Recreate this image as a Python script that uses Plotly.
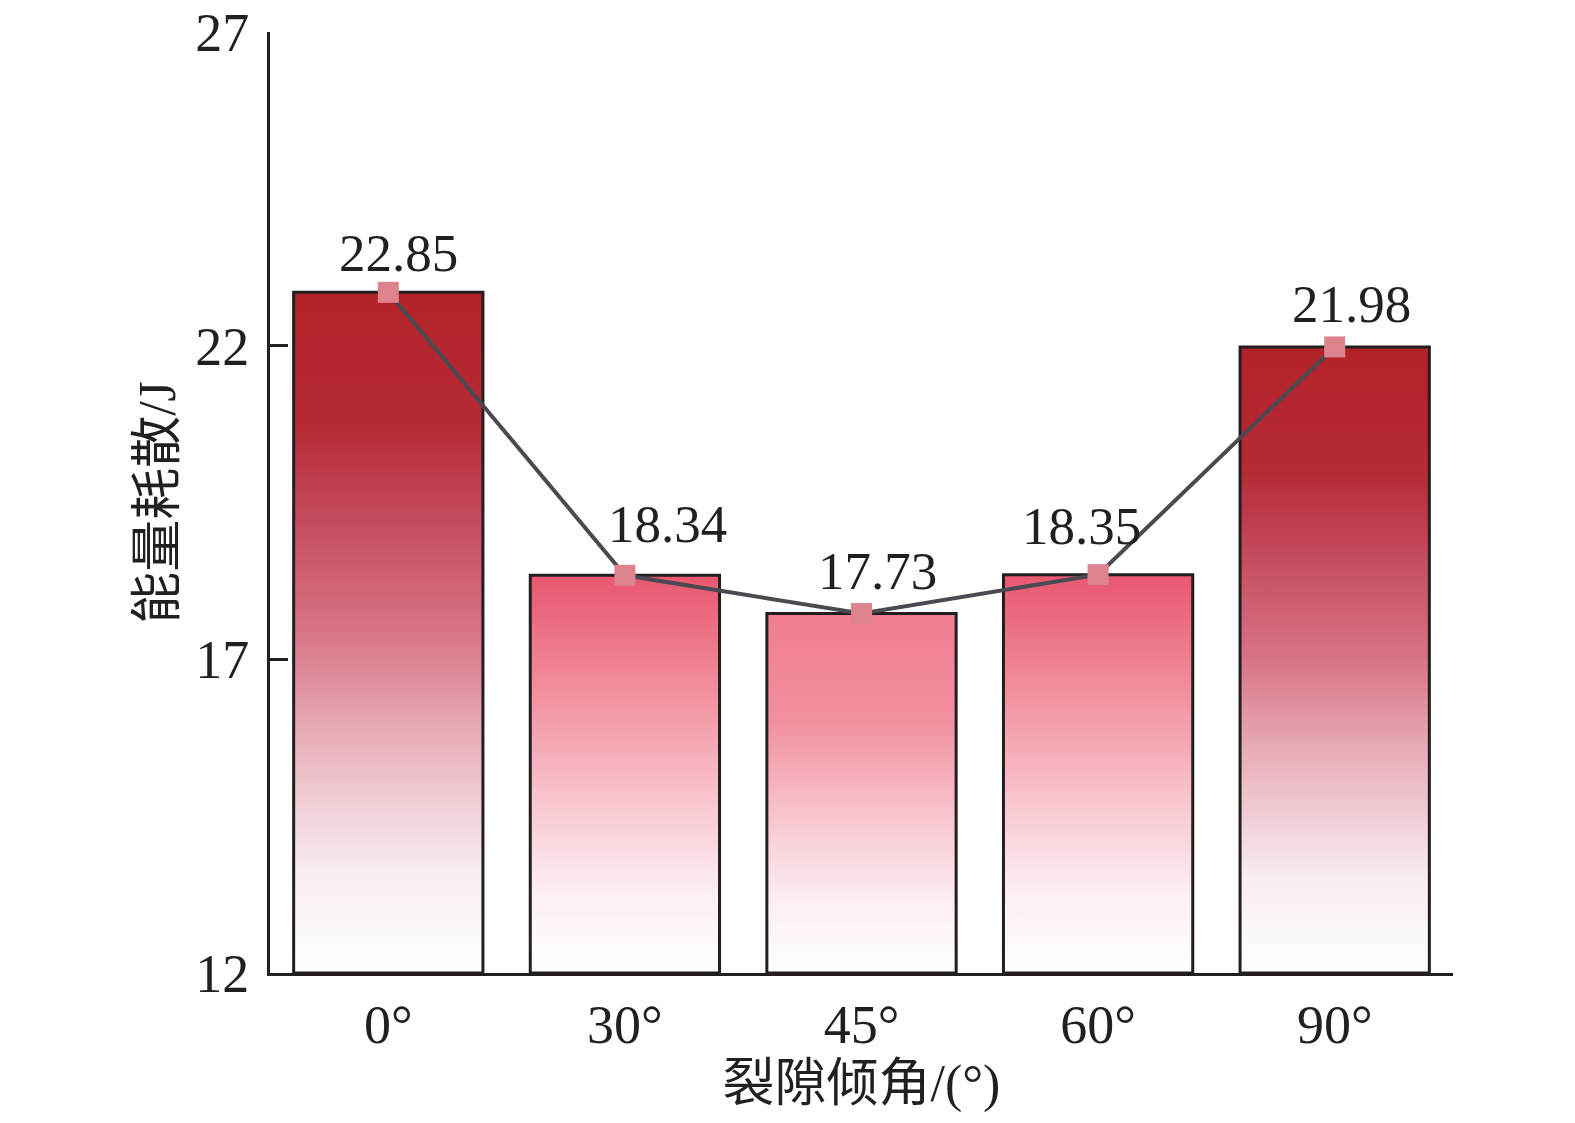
import plotly.graph_objects as go

categories = ["0°", "30°", "45°", "60°", "90°"]
energy = [22.85, 18.34, 17.73, 18.35, 21.98]
label_text = ["22.85", "18.34", "17.73", "18.35", "21.98"]
y_ticks = [12, 17, 22, 27]

# styling
bar_top_colors = ["#B22229", "#E85770", "#F07C8F", "#E85770", "#B22229"]
label_dx = [10, 43, 16, -17, 17]
label_dy = [8, 20, 12, 18, 12]
base = 12
half_w = 0.4
serif = "Liberation Serif, Times New Roman, serif"
cjk = "Liberation Serif, Noto Sans CJK SC, serif"
ink = "#231F20"

fig = go.Figure()

for i, v in enumerate(energy):
    top = bar_top_colors[i]
    if top == "#B22229":
        cs = [[0, "#FFFFFF"], [0.15, "#F8EDEF"], [0.35, "#E8AEBA"], [0.5, "#D87486"],
              [0.65, "#C74F63"], [0.8, "#B52A35"], [1, "#B22229"]]
    else:
        cs = [[0, "#FFFFFF"], [0.2, "#FCEFF2"], [0.45, "#F8C2CC"], [0.7, "#F2909F"], [1, top]]
    fig.add_trace(go.Scatter(
        x=[i - half_w, i - half_w, i + half_w, i + half_w, i - half_w],
        y=[base, v, v, base, base],
        mode="lines",
        fill="toself",
        fillgradient=dict(type="vertical", colorscale=cs, start=base, stop=v),
        line=dict(color=ink, width=3),
        hoverinfo="skip",
        showlegend=False,
    ))

fig.add_trace(go.Scatter(
    x=list(range(len(categories))),
    y=energy,
    mode="lines+markers",
    line=dict(color="#4B4A52", width=4),
    marker=dict(symbol="square", size=21, color="#DC838E", line=dict(width=0)),
    showlegend=False,
))

for i, v in enumerate(energy):
    fig.add_annotation(
        x=i, y=v, text=label_text[i], showarrow=False,
        xanchor="center", yanchor="bottom",
        xshift=label_dx[i], yshift=label_dy[i],
        font=dict(family=serif, size=53, color=ink),
    )

fig.update_layout(
    width=1575, height=1123,
    margin=dict(l=270, r=122, t=32, b=150),
    paper_bgcolor="white", plot_bgcolor="white",
    xaxis=dict(
        range=[-0.5, len(categories) - 0.5], automargin=False,
        tickmode="array", tickvals=list(range(len(categories))), ticktext=categories,
        showgrid=False, zeroline=False, showline=True, linecolor=ink, linewidth=3,
        ticks="", tickfont=dict(family=serif, size=54, color=ink), ticklabelstandoff=2,
        ticklabeloverflow="allow",
        title=dict(text="裂隙倾角/(°)", font=dict(family=cjk, size=52, color=ink), standoff=11),
    ),
    yaxis=dict(
        range=[12, 27], tickmode="array", tickvals=y_ticks, automargin=False,
        showgrid=False, zeroline=False, showline=True, linecolor=ink, linewidth=3,
        ticks="inside", ticklen=18, tickwidth=3, tickcolor=ink,
        tickfont=dict(family=serif, size=54, color=ink), ticklabelstandoff=7,
        ticklabeloverflow="allow",
        title=dict(text="能量耗散/J", font=dict(family=cjk, size=52, color=ink), standoff=4),
    ),
)

fig.write_html("out.html", config={"displayModeBar": False},
               post_script="document.body.style.margin='0';")
